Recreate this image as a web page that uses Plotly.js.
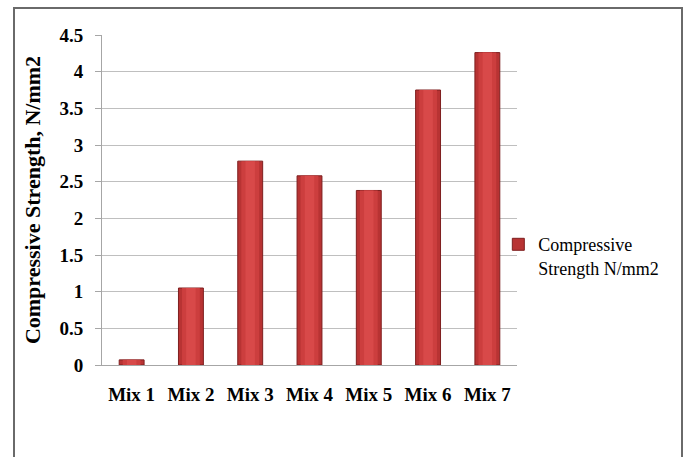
<!DOCTYPE html>
<html>
<head>
<meta charset="utf-8">
<script src="https://cdn.plot.ly/plotly-3.0.1.min.js"></script>
<style>
  html, body { margin: 0; padding: 0; background: #ffffff; }
  #wrap { position: relative; width: 687px; height: 457px; overflow: hidden; }
  #chart { position: absolute; left: 0; top: 0; width: 687px; height: 457px; }
  #frame { position: absolute; left: 13px; top: 7px; width: 666px; height: 470px;
           border: 2px solid #6a6a6a; pointer-events: none; }
</style>
</head>
<body>
<div id="wrap">
  <div id="chart"></div>
  <div id="frame"></div>
</div>
<script>
const categories = ["Mix 1", "Mix 2", "Mix 3", "Mix 4", "Mix 5", "Mix 6", "Mix 7"];
const strength = [0.07, 1.05, 2.78, 2.58, 2.38, 3.75, 4.26];
const seriesName = "Compressive<br>Strength N/mm2";
const yTitle = "Compressive Strength, N/mm2";
const yTicks = [0, 0.5, 1, 1.5, 2, 2.5, 3, 3.5, 4, 4.5];
const yTickText = ["0", "0.5", "1", "1.5", "2", "2.5", "3", "3.5", "4", "4.5"];

const serif = "Liberation Serif";

const traces = [
  {
    type: "bar", x: categories, y: strength, name: seriesName,
    width: 0.42,
    marker: { color: "#b83333", line: { color: "#7e1f1f", width: 1 } },
    hoverinfo: "x+y"
  },
  {
    type: "bar", x: categories, y: strength, showlegend: false,
    width: 0.30,
    marker: { color: "#cc3e3e", line: { width: 0 } },
    hoverinfo: "skip"
  },
  {
    type: "bar", x: categories, y: strength, showlegend: false,
    width: 0.16,
    marker: { color: "#d84949", line: { width: 0 } },
    hoverinfo: "skip"
  }
];

const layout = {
  width: 687, height: 457,
  margin: { l: 102, r: 170, t: 35, b: 92 },
  paper_bgcolor: "#ffffff",
  plot_bgcolor: "#ffffff",
  barmode: "overlay",
  showlegend: true,
  font: { family: serif },
  legend: {
    x: 0.955, xanchor: "left", y: 0.33, yanchor: "middle", valign: "top",
    font: { family: serif, size: 18, color: "#000000" },
    bgcolor: "rgba(0,0,0,0)", itemwidth: 30, tracegroupgap: 0
  },
  xaxis: {
    type: "category",
    showgrid: false,
    showline: true, linecolor: "#a6a6a6", linewidth: 1,
    ticks: "", ticklabelstandoff: 12,
    tickfont: { family: serif, size: 19, color: "#000000", weight: "bold" },
    fixedrange: true
  },
  yaxis: {
    range: [0, 4.5],
    tickvals: yTicks, ticktext: yTickText,
    showgrid: true, gridcolor: "#bfbfbf", gridwidth: 1,
    showline: true, linecolor: "#a6a6a6", linewidth: 1,
    ticks: "outside", ticklen: 6, tickcolor: "#a6a6a6",
    ticklabelstandoff: 8,
    zeroline: false,
    tickfont: { family: serif, size: 19, color: "#000000", weight: "bold" },
    title: { text: yTitle, standoff: 12,
             font: { family: serif, size: 22, color: "#000000", weight: "bold" } },
    fixedrange: true
  }
};

Plotly.newPlot("chart", traces, layout, { displayModeBar: false, staticPlot: true });
</script>
</body>
</html>
